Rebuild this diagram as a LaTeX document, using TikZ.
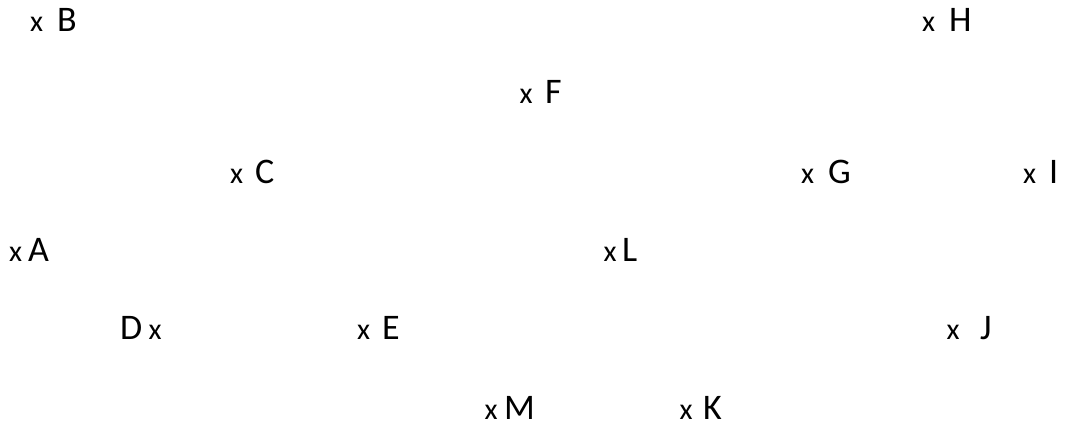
\documentclass[tikz,border=0pt]{standalone}
\usepackage{fontspec}
\setmainfont{Carlito}
\usepackage{tikz}
\usetikzlibrary{positioning}

\begin{document}
\begin{tikzpicture}[
    x=1pt, y=-1pt,
    cross/.style={inner sep=0pt, anchor=base, font=\fontsize{30}{32}\selectfont},
    lbl/.style={inner sep=0pt, anchor=base west, font=\fontsize{36}{40}\selectfont},
]
\useasboundingbox (0,0) rectangle (1065,427);

% ===== TOP ROWS =====
\node[cross] (xB) at (36.5, 32) {x};
\node[lbl] (B) at (57, 32) {B};
\node[cross] (xH) at (928.5, 32) {x};
\node[lbl] (H) at (949, 32) {H};

\node[cross] (xF) at (526, 104) {x};
\node[lbl] (F) at (545, 104) {F};

\node[cross] (xC) at (236.5, 184) {x};
\node[lbl] (C) at (255, 184) {C};
\node[cross] (xG) at (807.5, 184) {x};
\node[lbl] (G) at (828, 184) {G};
\node[cross] (xI) at (1029.5, 184) {x};
\node[lbl] (I) at (1049, 184) {I};

% ===== MIDDLE ROWS =====
\node[cross] (xA) at (15.5, 262) {x};
\node[lbl] (A) at (28, 262) {A};
\node[cross] (xL) at (610, 262) {x};
\node[lbl] (L) at (622, 262) {L};

\node[lbl] (D) at (120, 340) {D};
\node[cross] (xD) at (155, 340) {x};
\node[cross] (xE) at (363.5, 340) {x};
\node[lbl] (E) at (382, 340) {E};
\node[cross] (xJ) at (953, 340) {x};
\node[lbl] (J) at (980, 340) {J};

% ===== BOTTOM ROW =====
\node[cross] (xM) at (491, 419) {x};
\node[lbl] (M) at (504, 419) {M};
\node[cross] (xK) at (686, 419) {x};
\node[lbl] (K) at (703, 419) {K};

\end{tikzpicture}
\end{document}
